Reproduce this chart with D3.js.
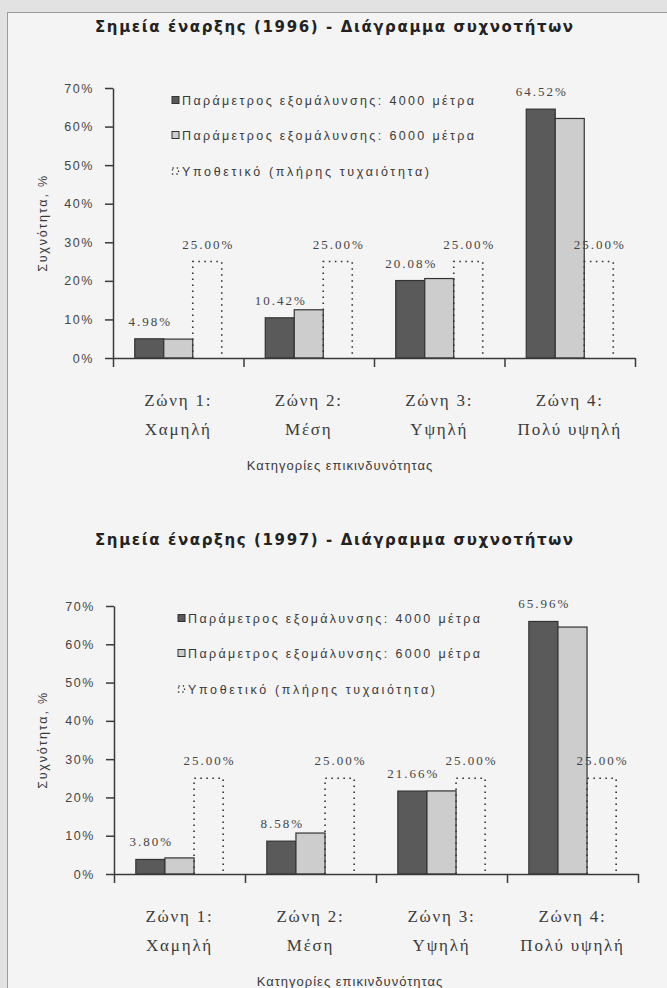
<!DOCTYPE html>
<html>
<head>
<meta charset="utf-8">
<title></title>
<script src="https://d3js.org/d3.v7.min.js"></script>
<style>
  body { margin: 0; background: #e6e6e6; }
  text { fill: #3a3a3a; }
</style>
</head>
<body>
<script>
// chart data
var titles = ["Σημεία έναρξης (1996) - Διάγραμμα συχνοτήτων",
              "Σημεία έναρξης (1997) - Διάγραμμα συχνοτήτων"];
var zones = ["Ζώνη 1:", "Ζώνη 2:", "Ζώνη 3:", "Ζώνη 4:"];
var zoneNames = ["Χαμηλή", "Μέση", "Υψηλή", "Πολύ υψηλή"];
var seriesNames = ["Παράμετρος εξομάλυνσης: 4000 μέτρα",
                   "Παράμετρος εξομάλυνσης: 6000 μέτρα",
                   "Υποθετικό (πλήρης τυχαιότητα)"];
var yTicks = [0, 10, 20, 30, 40, 50, 60, 70];
var yTitle = "Συχνότητα, %";
var xTitle = "Κατηγορίες επικινδυνότητας";

var s4000_1996 = [4.98, 10.42, 20.08, 64.52];
var s6000_1996 = [4.9, 12.5, 20.6, 62.1];
var random_1996 = [25.00, 25.00, 25.00, 25.00];

var s4000_1997 = [3.80, 8.58, 21.66, 65.96];
var s6000_1997 = [4.2, 10.7, 21.7, 64.5];
var random_1997 = [25.00, 25.00, 25.00, 25.00];

var width = 667, height = 988;
var svg = d3.select("body").append("svg").attr("width", width).attr("height", height);

// scanned page look
svg.append("rect").attr("width", width).attr("height", height).attr("fill", "#e2e2e2");
svg.append("rect")
    .attr("x", 7.5).attr("y", 12.5)
    .attr("width", width).attr("height", height)
    .attr("fill", "#f4f4f4").attr("stroke", "#9c9c9c");

var sans = "'Liberation Sans', Arial, sans-serif";
var serif = "'Liberation Serif', 'Times New Roman', serif";
var fmt = d3.format(".2f");

function panel(cfg) {
  var g = svg.append("g");
  var x = d3.scaleBand().domain(zones).range([cfg.x0, cfg.x1]);
  var bw = x.bandwidth();
  var xs = d3.scaleBand().domain([0, 1, 2]).range([bw * 0.75 / 4.5, bw - bw * 0.75 / 4.5]);
  var w = xs.bandwidth();
  var y = d3.scaleLinear().domain([0, 70]).range([cfg.yBottom, cfg.yTop]);

  // title
  g.append("text")
      .attr("x", 334).attr("y", cfg.titleY)
      .attr("text-anchor", "middle")
      .attr("textLength", 478).attr("lengthAdjust", "spacing")
      .style("font-family", "'DejaVu Sans', Tahoma, sans-serif")
      .style("font-weight", "bold").style("font-size", "15px")
      .style("fill", "#222")
      .text(cfg.title);

  // bars
  var solid = [cfg.series[0], cfg.series[1]];
  var fills = ["#5a5a5a", "#cdcdcd"];
  solid.forEach(function(vals, si) {
    g.selectAll(".bar" + si)
      .data(vals)
      .enter().append("rect")
        .attr("x", function(d, i) { return x(zones[i]) + xs(si); })
        .attr("y", function(d) { return y(d); })
        .attr("width", w)
        .attr("height", function(d) { return y(0) - y(d); })
        .attr("fill", fills[si])
        .attr("stroke", "#333")
        .attr("stroke-width", 1.2);
  });

  // dotted "random" bars, open at the bottom
  g.selectAll(".rnd")
    .data(cfg.series[2])
    .enter().append("path")
      .attr("d", function(d, i) {
        var bx = x(zones[i]) + xs(2);
        return "M" + bx + "," + y(0) + "V" + y(d) + "H" + (bx + w) + "V" + y(0);
      })
      .attr("fill", "none")
      .attr("stroke", "#333")
      .attr("stroke-width", 1.6)
      .attr("stroke-dasharray", "1.6,4.4");

  // value labels (first and third series)
  [0, 2].forEach(function(si) {
    g.selectAll(".lab" + si)
      .data(cfg.series[si])
      .enter().append("text")
        .attr("x", function(d, i) { return x(zones[i]) + xs(si) + w / 2 + 1; })
        .attr("y", function(d) { return y(d) - 13; })
        .attr("text-anchor", "middle")
        .style("font-family", serif).style("font-size", "13px")
        .style("letter-spacing", "2px")
        .style("fill", "#444")
        .text(function(d) { return fmt(d) + "%"; });
  });

  // y axis
  var yAxis = d3.axisLeft(y).tickValues(yTicks).tickSize(8).tickSizeOuter(0).tickPadding(11)
      .tickFormat(function(d) { return d + "%"; });
  var ya = g.append("g").attr("transform", "translate(" + cfg.x0 + ",0)").call(yAxis);
  ya.select(".domain").attr("stroke", "#3a3a3a").attr("stroke-width", 1.5);
  ya.selectAll(".tick line").attr("stroke", "#3a3a3a").attr("stroke-width", 1.5);
  ya.selectAll(".tick text")
      .style("font-family", sans).style("font-size", "12.5px")
      .style("letter-spacing", "1.6px").style("fill", "#444");

  // x axis: ticks at category boundaries
  var edge = d3.scaleLinear().domain([0, zones.length]).range([cfg.x0, cfg.x1]);
  var xAxis = d3.axisBottom(edge).tickValues(d3.range(zones.length + 1))
      .tickSize(9).tickSizeOuter(0).tickFormat("");
  var xa = g.append("g").attr("transform", "translate(0," + cfg.yBottom + ")").call(xAxis);
  xa.select(".domain").attr("stroke", "#3a3a3a").attr("stroke-width", 1.5);
  xa.selectAll(".tick line").attr("stroke", "#3a3a3a").attr("stroke-width", 1.5);

  // category labels, two lines
  var cat = g.selectAll(".cat")
    .data(zones)
    .enter().append("text")
      .attr("text-anchor", "middle")
      .style("font-family", serif).style("font-size", "17px")
      .style("letter-spacing", "1.8px")
      .style("fill", "#3c3c3c");
  cat.append("tspan")
      .attr("x", function(d) { return x(d) + bw / 2; })
      .attr("y", cfg.yBottom + 48)
      .text(function(d) { return d; });
  cat.append("tspan")
      .attr("x", function(d) { return x(d) + bw / 2; })
      .attr("y", cfg.yBottom + 77)
      .text(function(d, i) { return zoneNames[i]; });

  // axis titles
  g.append("text")
      .attr("x", cfg.xTitleX).attr("y", cfg.yBottom + 112)
      .attr("text-anchor", "middle")
      .style("font-family", sans).style("font-size", "13px")
      .style("letter-spacing", "1px")
      .text(xTitle);
  g.append("text")
      .attr("transform", "translate(47," + ((cfg.yTop + cfg.yBottom) / 2) + ") rotate(-90)")
      .attr("text-anchor", "middle")
      .style("font-family", sans).style("font-size", "12.5px")
      .style("letter-spacing", "1.8px")
      .text(yTitle);

  // legend
  var lg = g.append("g").attr("transform", "translate(" + cfg.legendX + "," + cfg.yTop + ")");
  var rows = [12, 47, 83];
  var lens = [292, 292, 247];
  seriesNames.forEach(function(name, i) {
    if (i < 2) {
      lg.append("rect")
          .attr("x", 0).attr("y", rows[i] - 3.5)
          .attr("width", 7).attr("height", 7)
          .attr("fill", fills[i]).attr("stroke", "#333");
    } else {
      lg.append("rect")
          .attr("x", 0.5).attr("y", rows[i] - 3)
          .attr("width", 6).attr("height", 6)
          .attr("fill", "none").attr("stroke", "#333")
          .attr("stroke-width", 1.3).attr("stroke-dasharray", "1.3,3");
    }
    lg.append("text")
        .attr("x", 10).attr("y", rows[i] + 4.5)
        .attr("textLength", lens[i]).attr("lengthAdjust", "spacing")
        .style("font-family", sans).style("font-size", "12.5px")
        .text(name);
  });
}

panel({
  title: titles[0], titleY: 32,
  x0: 113, x1: 635, yTop: 88, yBottom: 358,
  legendX: 172, xTitleX: 340,
  series: [s4000_1996, s6000_1996, random_1996]
});

panel({
  title: titles[1], titleY: 545,
  x0: 114, x1: 638, yTop: 606, yBottom: 874,
  legendX: 178, xTitleX: 350,
  series: [s4000_1997, s6000_1997, random_1997]
});
</script>
</body>
</html>
